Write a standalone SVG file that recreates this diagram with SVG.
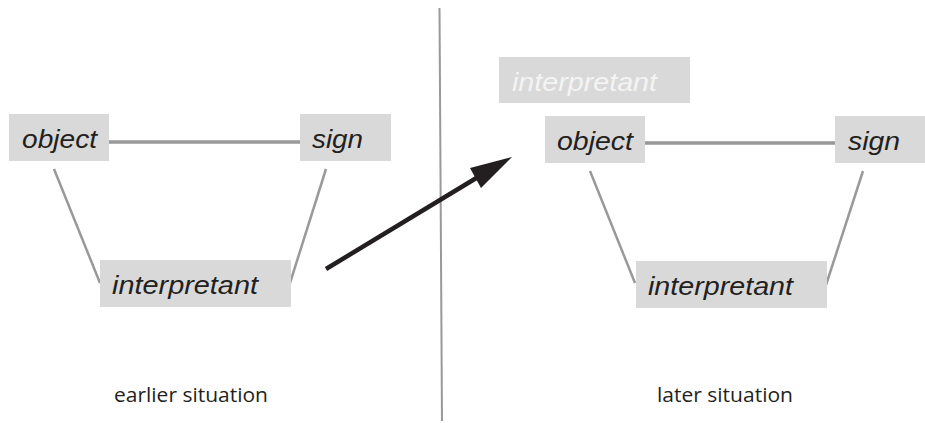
<svg xmlns="http://www.w3.org/2000/svg" width="925" height="423" viewBox="0 0 925 423">
<defs>
<style>
.box{fill:#d9d9d9}
.t{font-family:"Liberation Sans",Arial,sans-serif;font-style:italic;font-size:26px;fill:#231f20}
.faded{fill:#f4f4f4}
.cap{font-family:"Open Sans","Liberation Sans",sans-serif;font-size:20.5px;fill:#231f20}
.edge{stroke:#999;stroke-width:2.5;fill:none}
.hz{stroke-width:3.5}
</style>
</defs>
<rect width="925" height="423" fill="#fff"/>
<g id="connectors">
<line class="edge hz" x1="109" y1="142" x2="300" y2="142"/>
<line class="edge" x1="54" y1="169" x2="100" y2="283"/>
<line class="edge" x1="326" y1="169" x2="290" y2="283"/>
<line class="edge hz" x1="645" y1="143" x2="835" y2="143"/>
<line class="edge" x1="590" y1="171" x2="635" y2="283"/>
<line class="edge" x1="863" y1="171" x2="826" y2="285"/>
<line x1="439.5" y1="8" x2="442" y2="421" stroke="#999" stroke-width="2"/>
<line x1="326" y1="269" x2="478" y2="177" stroke="#231f20" stroke-width="4.5"/>
<path d="M512,157 L470,168 L481,188 z" fill="#231f20"/>
</g>
<g id="left-object"><rect class="box" x="9" y="114" width="100" height="47"/><text class="t" x="22" y="148" textLength="75" lengthAdjust="spacingAndGlyphs">object</text></g>
<g id="left-sign"><rect class="box" x="300" y="114" width="91" height="47"/><text class="t" x="312" y="148" textLength="51" lengthAdjust="spacingAndGlyphs">sign</text></g>
<g id="left-interpretant"><rect class="box" x="100" y="260" width="191" height="47"/><text class="t" x="112" y="294" textLength="146" lengthAdjust="spacingAndGlyphs">interpretant</text></g>
<g id="faded-interpretant"><rect class="box" x="499" y="57" width="191" height="46"/><text class="t faded" x="512" y="91" textLength="145" lengthAdjust="spacingAndGlyphs">interpretant</text></g>
<g id="right-object"><rect class="box" x="545" y="116" width="100" height="47"/><text class="t" x="557" y="150" textLength="76" lengthAdjust="spacingAndGlyphs">object</text></g>
<g id="right-sign"><rect class="box" x="835" y="116" width="90" height="47"/><text class="t" x="848" y="150" textLength="52" lengthAdjust="spacingAndGlyphs">sign</text></g>
<g id="right-interpretant"><rect class="box" x="636" y="261" width="191" height="47"/><text class="t" x="648" y="295" textLength="145" lengthAdjust="spacingAndGlyphs">interpretant</text></g>
<g id="captions">
<text class="cap" x="114" y="402" textLength="154" lengthAdjust="spacingAndGlyphs">earlier situation</text>
<text class="cap" x="657" y="402" textLength="136" lengthAdjust="spacingAndGlyphs">later situation</text>
</g>
</svg>
